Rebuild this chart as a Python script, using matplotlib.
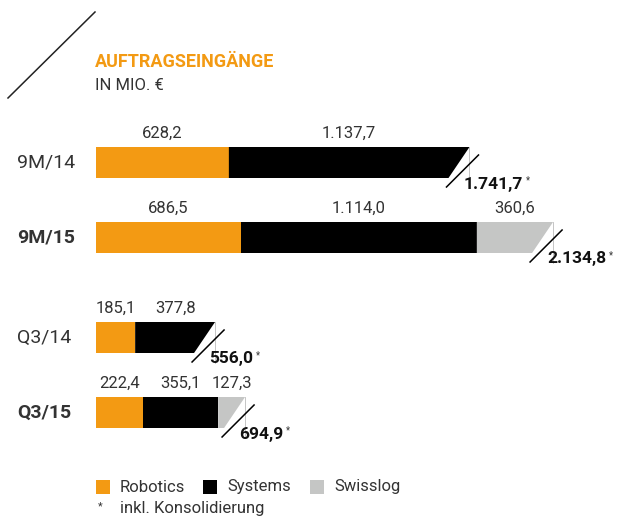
import matplotlib
matplotlib.use('Agg')
import matplotlib.pyplot as plt
from matplotlib.patches import Polygon, Rectangle

plt.rcParams['font.family'] = ['Roboto', 'DejaVu Sans']

# data
categories = ['9M/14', '9M/15', 'Q3/14', 'Q3/15']
bold_rows = [False, True, False, True]
robotics = [628.2, 686.5, 185.1, 222.4]
systems = [1137.7, 1114.0, 377.8, 355.1]
swisslog = [0.0, 360.6, 0.0, 127.3]
totals = ['1.741,7', '2.134,8', '556,0', '694,9']
series_names = ['Robotics', 'Systems', 'Swisslog']

colors = ['#F39A13', '#000000', '#C5C6C5']
text_c = '#333333'

W, H = 619, 519
x0 = 96           # pixel where the bars start
ppu = 0.2115      # pixels per unit
bar_y = [162.5, 237.5, 337.5, 412.5]
bar_h = 31


def fmt(v):
    return f'{v:,.1f}'.replace(',', 'X').replace('.', ',').replace('X', '.')


fig = plt.figure(figsize=(W / 100, H / 100), dpi=100)
ax = fig.add_axes([0, 0, 1, 1])
ax.set_xlim(-x0 / ppu, (W - x0) / ppu)
ax.set_ylim(H, 0)
ax.axis('off')

cut = 21 / ppu   # horizontal size of the diagonal cut, in units

for i, cat in enumerate(categories):
    yc = bar_y[i]
    top, bot = yc - bar_h / 2, yc + bar_h / 2
    segs = [(v, c) for v, c in zip([robotics[i], systems[i], swisslog[i]], colors) if v > 0]
    left = 0.0
    for j, (v, c) in enumerate(segs):
        right = left + v
        if j < len(segs) - 1:
            ax.barh(yc, v, left=left, height=bar_h, color=c, linewidth=0)
        else:
            ax.add_patch(Polygon([(left, top), (right, top), (right - cut, bot), (left, bot)],
                                 closed=True, facecolor=c, linewidth=0))
        ax.text(left + v / 2, top - 14, fmt(v), ha='center', va='center',
                fontsize=12, color=text_c)
        left = right
    end = left
    # thin guide and slash at the end of the bar
    ax.plot([end, end], [top, bot + 10], color='#BBBBBB', lw=0.6)
    ax.plot([end - 23 / ppu, end + 9 / ppu], [bot + 9, top + 8], color='black', lw=1.1)
    t = ax.text(end - 6 / ppu, bot + 6, totals[i], ha='left', va='center',
                fontsize=12.5, fontweight='bold', color='#111111')
    ax.annotate('*', xy=(1, 1), xycoords=t, xytext=(2, 1), textcoords='offset points',
                ha='left', va='top', fontsize=7, color=text_c)
    ax.text(-79 / ppu, yc, cat, ha='left', va='center', fontsize=14,
            fontweight='bold' if bold_rows[i] else 'normal', color=text_c)

# title block
ax.plot([-88 / ppu, -1 / ppu], [98, 12], color='#222222', lw=1.1)
ax.text(-1 / ppu, 62, 'AUFTRAGSEINGÄNGE', ha='left', va='center', fontsize=13,
        fontweight='bold', color='#F39A13')
ax.text(-1 / ppu, 85, 'IN MIO. €', ha='left', va='center', fontsize=12, color=text_c)

# legend
leg_x = [96, 203, 310]
for lx, name, c in zip(leg_x, series_names, colors):
    ax.add_patch(Rectangle(((lx - x0) / ppu, 480), 14 / ppu, 14, facecolor=c, linewidth=0))
    ax.text((lx + 24 - x0) / ppu, 487, name, ha='left', va='center', fontsize=12, color=text_c)
ax.text((98 - x0) / ppu, 506, '*', ha='left', va='center', fontsize=8, color=text_c)
ax.text((120 - x0) / ppu, 509, 'inkl. Konsolidierung', ha='left', va='center',
        fontsize=12, color=text_c)

fig.savefig('out.png', dpi=100)
